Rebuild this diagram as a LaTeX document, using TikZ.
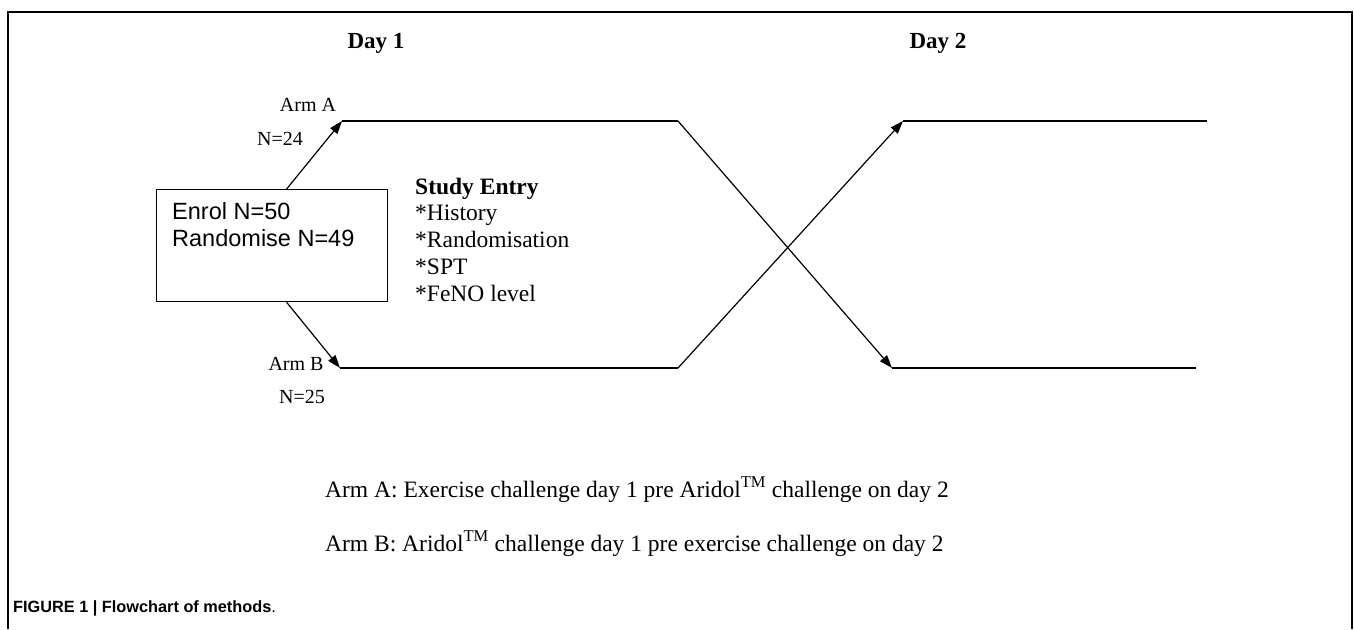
\documentclass[tikz,border=0pt]{standalone}
\usepackage{fontspec}
\setmainfont{Liberation Serif}
\setsansfont{Liberation Sans}
\usetikzlibrary{calc, positioning, arrows.meta}

\tikzset{
    conn/.style={line width=1.2pt, -{Triangle[length=13pt, width=9pt]}},
    plain/.style={line width=1.2pt},
    armlbl/.style={font=\fontsize{20}{24}\selectfont, inner sep=0pt, anchor=base},
    daylbl/.style={font=\bfseries\fontsize{23}{27}\selectfont, inner sep=0pt, anchor=base},
    entrytxt/.style={font=\fontsize{23.5}{27}\selectfont, inner sep=0pt, anchor=base west},
    boxtxt/.style={font=\sffamily\fontsize{23.5}{27}\selectfont, inner sep=0pt, anchor=base west},
}

\begin{document}
\begin{tikzpicture}[x=1pt, y=-1pt] % one unit is one pixel of the figure
            \useasboundingbox (0,0) rectangle (1354,629);

            % Add the frame round the figure
            \draw[line width=1.3pt] (8,629) -- (8,12) -- (1352,12) -- (1352,629);

            % Add the day headings
            \node[daylbl] (day1) at (376,48) {Day 1};
            \node[daylbl] (day2) at (938,48) {Day 2};

            % enrolment box
            \node[draw, line width=1.3pt, minimum width=231pt, minimum height=112pt, anchor=north west] (enrol) at (156,189) {};
            \foreach \i/\txt in {0/Enrol N=50, 1/Randomise N=49} {
                    \node[boxtxt] (enrol\i) at (172,219+27.5*\i) {\txt};
                }

            % Add labels of the two arms
            \node[armlbl] (armA) at (308,111) {Arm A};
            \node[armlbl] (nA) at (280,145) {N=24};
            \node[armlbl] (armB) at (296,370) {Arm B};
            \node[armlbl] (nB) at (302,403) {N=25};

            % Add the study entry list
            \node[entrytxt, font=\bfseries\fontsize{23.5}{27}\selectfont] (entry0) at (415,194) {Study Entry};
            \foreach \i/\txt in {1/History, 2/Randomisation, 3/SPT, 4/FeNO level} {
                    \node[entrytxt] (entry\i) at (415,194+26.8*\i) {*\txt};
                }

            % corners of the two arm lines
            \coordinate (a1) at (342,121);
            \coordinate (a2) at (678,121);
            \coordinate (a3) at (903,121);
            \coordinate (a4) at (1207,121);
            \coordinate (b1) at (340,368);
            \coordinate (b2) at (678,368);
            \coordinate (b3) at (892,368);
            \coordinate (b4) at (1196,368);

            % arm A: day 1 on top, crosses down on day 2
            \draw[conn] ([xshift=14.5pt]enrol.north) -- (a1);
            \draw[plain] (a1) -- (a2);
            \draw[conn] (a2) -- (b3);
            \draw[plain] (b3) -- (b4);

            % arm B: day 1 below, crosses up on day 2
            \draw[conn] ([xshift=14.5pt]enrol.south) -- (b1);
            \draw[plain] (b1) -- (b2);
            \draw[conn] (b2) -- (a3);
            \draw[plain] (a3) -- (a4);

            % Add the legend under the chart
            \node[entrytxt] (legA) at (325,497) {Arm A: Exercise challenge day 1 pre Aridol\textsuperscript{TM} challenge on day 2};
            \node[entrytxt] (legB) at (325,551) {Arm B: Aridol\textsuperscript{TM} challenge day 1 pre exercise challenge on day 2};

            % caption
            \node[font=\sffamily\fontsize{16.3}{20}\selectfont, inner sep=0pt, anchor=base west] (caption) at (13,612) {\textbf{FIGURE 1 | Flowchart of methods}.};

        \end{tikzpicture}
\end{document}
